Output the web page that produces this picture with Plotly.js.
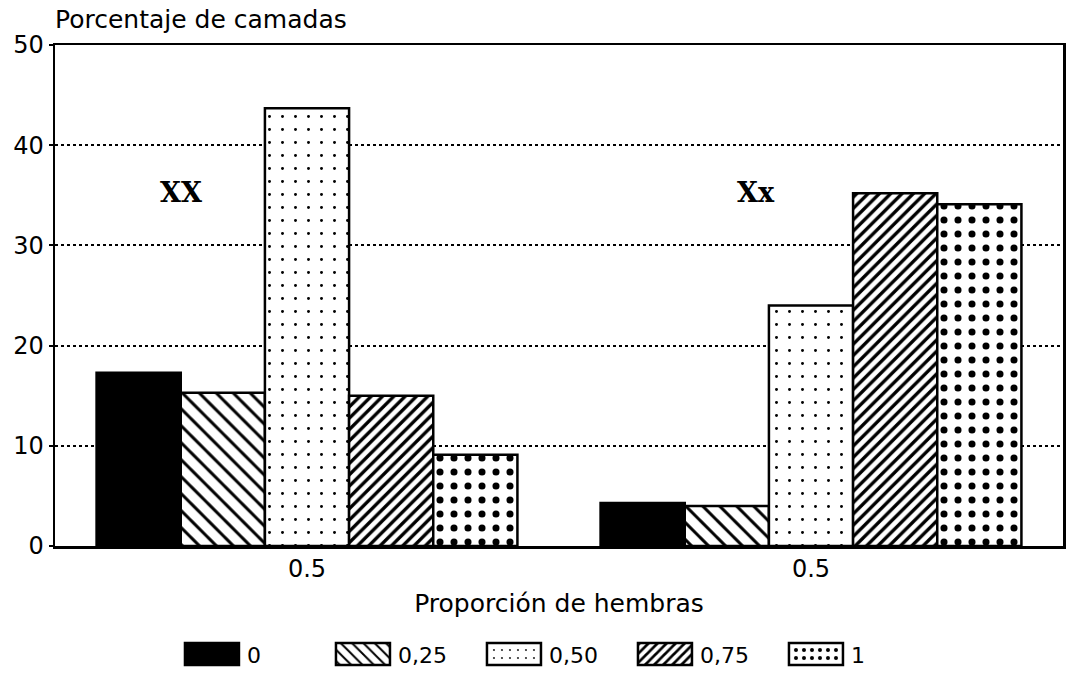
<!DOCTYPE html>
<html>
<head>
<meta charset="utf-8">
<script src="https://cdn.plot.ly/plotly-3.0.1.min.js"></script>
<style>
html,body{margin:0;padding:0;background:#fff;}
#chart{width:1070px;height:688px;}
</style>
</head>
<body>
<div id="chart"></div>
<script>
// ---- data ----
const groups = ["XX", "Xx"];
const groupTickLabels = ["0.5", "0.5"];
const seriesNames = ["0", "0,25", "0,50", "0,75", "1"];
const s0   = [17.3, 4.3];
const s025 = [15.3, 4.0];
const s050 = [43.7, 24.0];
const s075 = [15.0, 35.2];
const s1   = [9.1, 34.1];
const seriesValues = [s0, s025, s050, s075, s1];
const annotationY = [35.3, 35.3];
const annotationOffset = [-0.25, -0.11];

const FONT = "DejaVu Sans";
const patterns = [
  {shape: "", fgcolor: "black", bgcolor: "black"},
  {shape: "\\", size: 12, solidity: 0.25, fgcolor: "black", bgcolor: "white"},
  {shape: ".", size: 13, solidity: 0.04, fgcolor: "black", bgcolor: "white"},
  {shape: "/", size: 8, solidity: 0.42, fgcolor: "black", bgcolor: "white"},
  {shape: ".", size: 14, solidity: 0.2, fgcolor: "black", bgcolor: "white"}
];
const fills = ["black", "white", "white", "white", "white"];

const traces = seriesNames.map((name, i) => ({
  type: "bar",
  name: name,
  x: groups,
  y: seriesValues[i],
  marker: {
    color: fills[i],
    pattern: patterns[i],
    line: {color: "black", width: 2.5}
  },
  hoverinfo: "x+y+name"
}));

const annotations = groups.map((g, i) => ({
  x: i + annotationOffset[i],
  y: annotationY[i],
  xref: "x", yref: "y",
  text: "<b>" + g + "</b>",
  showarrow: false,
  font: {family: "DejaVu Serif", size: 27, color: "black"}
}));

const layout = {
  width: 1070, height: 688,
  margin: {l: 55, r: 7, t: 45, b: 142},
  paper_bgcolor: "white",
  plot_bgcolor: "white",
  barmode: "group",
  bargap: 0.165,
  bargroupgap: 0,
  font: {family: FONT, color: "black", size: 22},
  title: {
    text: "Porcentaje de camadas",
    x: 55 / 1070, xref: "container", xanchor: "left",
    y: 1 - 19 / 688, yref: "container", yanchor: "middle",
    font: {family: FONT, size: 25, color: "black"}
  },
  xaxis: {
    type: "category",
    tickvals: groups,
    ticktext: groupTickLabels,
    range: [-0.5, 1.5],
    showline: true, linecolor: "black", linewidth: 2.5, mirror: true,
    ticks: "", showgrid: false, zeroline: false,
    tickfont: {family: FONT, size: 24},
    title: {text: "Proporción de hembras", standoff: 12, font: {family: FONT, size: 25}}
  },
  yaxis: {
    range: [0, 50],
    dtick: 10,
    tick0: 0,
    showline: true, linecolor: "black", linewidth: 2.5, mirror: true,
    ticks: "outside", ticklen: 4, tickwidth: 2, tickcolor: "black",
    showgrid: true, gridcolor: "black", gridwidth: 2, griddash: "dot",
    zeroline: false,
    tickfont: {family: FONT, size: 24}
  },
  legend: {
    orientation: "h",
    x: 0.121, xanchor: "left",
    y: -0.216, yanchor: "middle",
    itemwidth: 60,
    entrywidth: 76,
    font: {family: FONT, size: 22},
    traceorder: "normal",
    bgcolor: "rgba(0,0,0,0)"
  },
  annotations: annotations,
  showlegend: true
};

Plotly.newPlot("chart", traces, layout, {displayModeBar: false, staticPlot: true}).then(gd => {
  // enlarge legend swatches to match the reference's wide boxes
  document.querySelectorAll("#chart .legendpoints path").forEach(p => {
    p.setAttribute("d", "M27,11H-27V-11H27Z");
  });
});
</script>
</body>
</html>
